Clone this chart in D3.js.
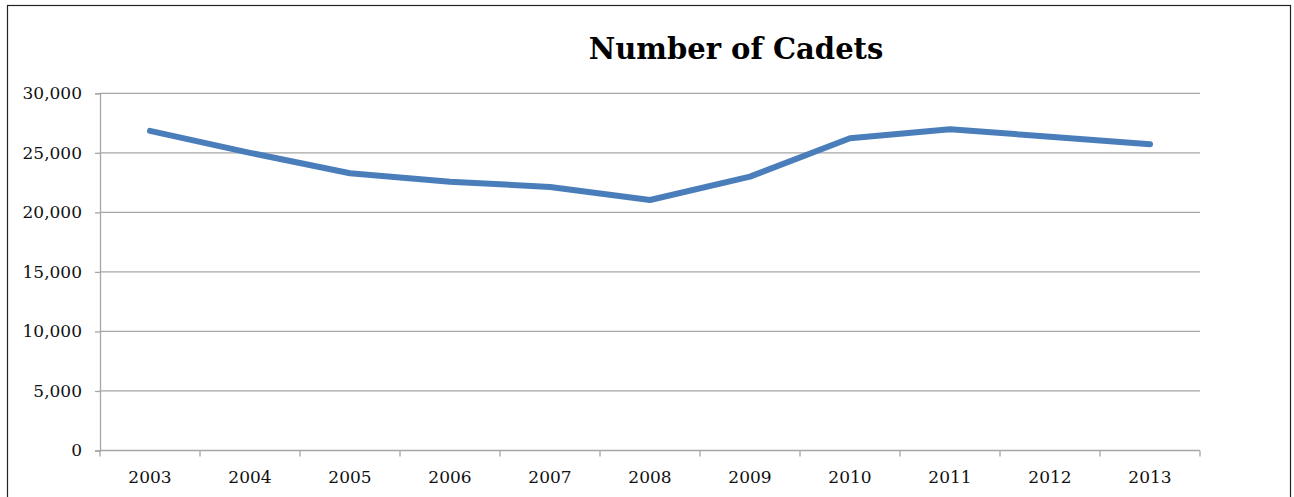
<!DOCTYPE html>
<html><head><meta charset="utf-8">
<script src="https://cdn.jsdelivr.net/npm/d3@7"></script>
<style>html,body{margin:0;padding:0;background:#fff;}svg{display:block;}</style>
</head><body>
<script>
const years = ["2003","2004","2005","2006","2007","2008","2009","2010","2011","2012","2013"];
const cadets = [26850, 25000, 23280, 22580, 22130, 21040, 23000, 26220, 26980, 26350, 25720];
const yTicks = [0, 5000, 10000, 15000, 20000, 25000, 30000];
const title = "Number of Cadets";

(function(){
const W = 1294, H = 497;
const svg = d3.select("body").append("svg").attr("width", W).attr("height", H);

// outer frame
svg.append("rect").attr("x", 7.5).attr("y", 5.5).attr("width", 1283).attr("height", 520)
  .attr("fill", "none").attr("stroke", "#222").attr("stroke-width", 1.2);

const pLeft = 100, pRight = 1200, pTop = 93.3, pBottom = 450.5;
const x = d3.scaleBand().domain(years).range([pLeft, pRight]).padding(0);
const y = d3.scaleLinear().domain([0, 30000]).range([pBottom, pTop]);

// gridlines
svg.append("g").selectAll("line").data(yTicks.filter(d => d > 0)).join("line")
  .attr("x1", pLeft).attr("x2", pRight)
  .attr("y1", d => y(d)).attr("y2", d => y(d))
  .attr("stroke", "#a6a6a6").attr("stroke-width", 1.3);

// y axis
const fmt = d3.format(",");
const yAxis = svg.append("g").attr("transform", `translate(${pLeft},0)`)
  .call(d3.axisLeft(y).tickValues(yTicks).tickFormat(d => fmt(d)).tickSize(5).tickPadding(13));
yAxis.select(".domain").attr("stroke", "#a6a6a6").attr("stroke-width", 1.3);
yAxis.selectAll(".tick line").attr("stroke", "#a6a6a6").attr("stroke-width", 1.3);
yAxis.selectAll("text").attr("font-family", "'DejaVu Serif', serif").attr("font-size", 17).attr("fill", "#111");

// x axis with ticks at band boundaries
const xg = svg.append("g").attr("transform", `translate(0,${pBottom})`);
xg.append("line").attr("x1", pLeft).attr("x2", pRight).attr("y1", 0).attr("y2", 0)
  .attr("stroke", "#a6a6a6").attr("stroke-width", 1.3);
const bounds = years.map(d => x(d)).concat([x(years[years.length-1]) + x.bandwidth()]);
xg.selectAll("line.t").data(bounds).join("line").attr("class","t")
  .attr("x1", d => d).attr("x2", d => d).attr("y1", 0).attr("y2", 6)
  .attr("stroke", "#a6a6a6").attr("stroke-width", 1.3);
xg.selectAll("text").data(years).join("text")
  .attr("x", d => x(d) + x.bandwidth()/2).attr("y", 32)
  .attr("text-anchor", "middle")
  .attr("font-family", "'DejaVu Serif', serif").attr("font-size", 17).attr("fill", "#111")
  .text(d => d);

// line
const line = d3.line().x((d, i) => x(years[i]) + x.bandwidth()/2).y(d => y(d));
svg.append("path").datum(cadets).attr("d", line)
  .attr("fill", "none").attr("stroke", "#4a7ebb").attr("stroke-width", 6)
  .attr("stroke-linecap", "round").attr("stroke-linejoin", "round");

// title
svg.append("text").attr("x", 736).attr("y", 59).attr("text-anchor", "middle")
  .attr("font-family", "'DejaVu Serif', serif").attr("font-weight", "bold").attr("font-size", 29)
  .attr("fill", "#000").text(title);
})();
</script>
</body></html>
